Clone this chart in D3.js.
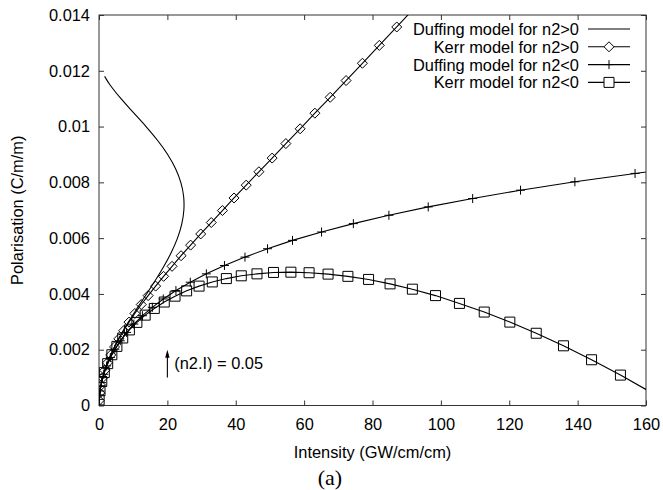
<!DOCTYPE html>
<html>
<head>
<meta charset="utf-8">
<script src="https://cdn.jsdelivr.net/npm/d3@7"></script>
<style>
  body { margin: 0; background: #fff; }
  svg text { font-family: "Liberation Sans", Arial, sans-serif; font-size: 16.4px; fill: #000; }
  .axis path { display: none; }
  .axis line { stroke: #333; }
</style>
</head>
<body>
<svg id="chart"></svg>
<script>
// Duffing model, n2 > 0 (plain line, folds back)
var duffPosP = [0, 0.0005, 0.001, 0.0015, 0.002, 0.0025, 0.003, 0.0035, 0.004, 0.0045, 0.005, 0.0055,
                0.006, 0.0065, 0.007, 0.0075, 0.008, 0.0085, 0.009, 0.0095, 0.010, 0.0105, 0.011, 0.0115, 0.0118];
var duffPosI = [0, 0.27, 1.07, 2.36, 4.10, 6.22, 8.63, 11.23, 13.91, 16.55, 19.02, 21.20,
                22.96, 24.20, 24.82, 24.75, 23.93, 22.37, 20.08, 17.16, 13.76, 10.08, 6.43, 3.19, 1.64];

// Kerr model, n2 > 0 (diamonds)
var kerrPosI = [0.04, 0.22, 0.56, 1.04, 1.69, 2.48, 3.43, 4.54, 5.79, 7.20, 8.77, 10.48, 12.36, 14.38,
                16.56, 18.89, 21.37, 24.01, 26.80, 29.75, 32.84, 36.10, 39.50, 43.06, 46.77, 50.64,
                54.66, 58.83, 63.15, 67.63, 72.27, 77.05, 81.99, 87.09, 92.33];
var kerrPosP = [0.00018, 0.00045, 0.00072, 0.00099, 0.00126, 0.00153, 0.00181, 0.00210, 0.00239, 0.00268,
                0.00299, 0.00330, 0.00362, 0.00394, 0.00428, 0.00463, 0.00499, 0.00537, 0.00575, 0.00615,
                0.00656, 0.00699, 0.00744, 0.00790, 0.00838, 0.00887, 0.00939, 0.00992, 0.01048, 0.01105,
                0.01165, 0.01227, 0.01291, 0.01357, 0.01426];

// Duffing model, n2 < 0 (plus signs)
var duffNegP = [0.00022, 0.00052, 0.00082, 0.00112, 0.00142, 0.00172, 0.00202, 0.00232, 0.00262, 0.00292,
                0.00322, 0.00352, 0.00382, 0.00412, 0.00442, 0.00472, 0.00502, 0.00532, 0.00562, 0.00592,
                0.00622, 0.00652, 0.00682, 0.00712, 0.00742, 0.00772, 0.00802, 0.00832, 0.00862];
var duffNegI = [0.05, 0.30, 0.73, 1.38, 2.24, 3.32, 4.64, 6.22, 8.08, 10.2, 12.7, 15.6, 18.8, 22.5,
                26.7, 31.4, 36.7, 42.7, 49.3, 56.6, 65.1, 74.4, 84.8, 96.3, 109.3, 123.3, 139.2, 156.8, 175.2];

// Kerr model, n2 < 0 (squares)
var kerrNegI = [0.04, 0.30, 0.81, 1.55, 2.54, 3.76, 5.23, 6.94, 8.89, 11.08, 13.51, 16.18, 19.09, 22.24,
                25.63, 29.27, 33.14, 37.26, 41.62, 46.21, 51.05, 56.13, 61.45, 67.01, 72.81, 78.85, 85.14,
                91.66, 98.43, 105.43, 112.68, 120.17, 127.89, 135.86, 144.07, 152.52, 161.21];
var kerrNegP = [0.00020, 0.00053, 0.00086, 0.00118, 0.00150, 0.00182, 0.00212, 0.00242, 0.00271, 0.00298,
                0.00324, 0.00348, 0.00371, 0.00392, 0.00411, 0.00428, 0.00443, 0.00455, 0.00465, 0.00472,
                0.00477, 0.00478, 0.00476, 0.00471, 0.00463, 0.00452, 0.00436, 0.00417, 0.00394, 0.00366,
                0.00335, 0.00299, 0.00259, 0.00214, 0.00164, 0.00109, 0.00049];

var xTicks = [0, 20, 40, 60, 80, 100, 120, 140, 160];
var yTicks = [0, 0.002, 0.004, 0.006, 0.008, 0.01, 0.012, 0.014];
var legendLabels = ["Duffing model for n2>0", "Kerr model for n2>0", "Duffing model for n2<0", "Kerr model for n2<0"];
var legendSymbols = ["none", "diamond", "plus", "square"];
var arrowFrom = [20, 0.001], arrowTo = [20, 0.002];
var noteText = "(n2.I) = 0.05", notePos = [22, 0.0015];

var width = 663, height = 490;
var plotLeft = 99, plotRight = 646, plotTop = 15, plotBottom = 405.5;

var svg = d3.select("#chart")
    .attr("width", width)
    .attr("height", height);

var x = d3.scaleLinear().domain([0, 160]).range([plotLeft, plotRight]);
var y = d3.scaleLinear().domain([0, 0.014]).range([plotBottom, plotTop]);

function zip(xs, ys) {
  return xs.map((v, i) => [v, ys[i]]);
}

svg.append("defs")
  .append("clipPath")
    .attr("id", "plot-clip")
  .append("rect")
    .attr("x", plotLeft)
    .attr("y", plotTop)
    .attr("width", plotRight - plotLeft)
    .attr("height", plotBottom - plotTop);

// axes, ticks pointing inwards and mirrored
svg.append("g")
    .attr("class", "axis")
    .attr("transform", "translate(0," + plotBottom + ")")
    .call(d3.axisBottom(x).tickValues(xTicks).tickSize(-5).tickSizeOuter(0).tickPadding(13)
            .tickFormat(d3.format("d")));
svg.append("g")
    .attr("class", "axis")
    .attr("transform", "translate(0," + plotTop + ")")
    .call(d3.axisTop(x).tickValues(xTicks).tickSize(-5).tickSizeOuter(0).tickFormat(""));
svg.append("g")
    .attr("class", "axis")
    .attr("transform", "translate(" + plotLeft + ",0)")
    .call(d3.axisLeft(y).tickValues(yTicks).tickSize(-5).tickSizeOuter(0).tickPadding(9)
            .tickFormat(d => d === 0 ? "0" : String(+d.toFixed(3))));
svg.append("g")
    .attr("class", "axis")
    .attr("transform", "translate(" + plotRight + ",0)")
    .call(d3.axisRight(y).tickValues(yTicks).tickSize(-5).tickSizeOuter(0).tickFormat(""));

svg.selectAll(".axis")
    .attr("font-size", null)
    .attr("font-family", null);

svg.append("rect")
    .attr("x", plotLeft)
    .attr("y", plotTop)
    .attr("width", plotRight - plotLeft)
    .attr("height", plotBottom - plotTop)
    .attr("fill", "none")
    .attr("stroke", "#333")
    .attr("stroke-width", 1);

// axis titles
svg.append("text")
    .attr("transform", "translate(23," + (plotTop + plotBottom) / 2 + ") rotate(-90)")
    .attr("text-anchor", "middle")
    .text("Polarisation (C/m/m)");

svg.append("text")
    .attr("x", (plotLeft + plotRight) / 2)
    .attr("y", 458)
    .attr("text-anchor", "middle")
    .text("Intensity (GW/cm/cm)");

svg.append("text")
    .attr("x", 330)
    .attr("y", 485)
    .attr("text-anchor", "middle")
    .style("font-family", "'Liberation Serif', 'Times New Roman', serif")
    .style("font-size", "22px")
    .text("(a)");

// curves
var line = d3.line()
             .x(d => x(d[0]))
             .y(d => y(d[1]));

var plot = svg.append("g").attr("clip-path", "url(#plot-clip)");

plot.append("path")
    .datum(zip(duffPosI, duffPosP))
    .attr("d", line.curve(d3.curveCatmullRom))
    .attr("fill", "none")
    .attr("stroke", "#000")
    .attr("stroke-width", 1.1);

line.curve(d3.curveLinear);

var series = [
  { pts: zip(kerrPosI, kerrPosP), sym: "diamond" },
  { pts: zip(duffNegI, duffNegP), sym: "plus" },
  { pts: zip(kerrNegI, kerrNegP), sym: "square" }
];

function symbolPath(sym) {
  if (sym === "diamond") return "M0,-5L5,0L0,5L-5,0Z";
  if (sym === "plus") return "M-4.5,0H4.5M0,-4.5V4.5";
  if (sym === "square") return "M-5,-5H5V5H-5Z";
  return "";
}

series.forEach(s => {
  plot.append("path")
      .datum(s.pts)
      .attr("d", line)
      .attr("fill", "none")
      .attr("stroke", "#000")
      .attr("stroke-width", 1.1);

  plot.selectAll(".m-" + s.sym)
      .data(s.pts.filter(d => d[0] <= 160 && d[1] <= 0.014))
      .enter()
      .append("path")
        .attr("class", "m-" + s.sym)
        .attr("transform", d => "translate(" + x(d[0]) + "," + y(d[1]) + ")")
        .attr("d", symbolPath(s.sym))
        .attr("fill", "none")
        .attr("stroke", "#000")
        .attr("stroke-width", 1);
});

// annotation arrow
svg.append("line")
    .attr("x1", x(arrowFrom[0]))
    .attr("y1", y(arrowFrom[1]))
    .attr("x2", x(arrowTo[0]))
    .attr("y2", y(arrowTo[1]) + 3)
    .attr("stroke", "#000")
    .attr("stroke-width", 1.1);
svg.append("path")
    .attr("transform", "translate(" + x(arrowTo[0]) + "," + y(arrowTo[1]) + ")")
    .attr("d", "M0,0L-2.2,8L2.2,8Z")
    .attr("fill", "#000");

svg.append("text")
    .attr("x", x(notePos[0]))
    .attr("y", y(notePos[1]))
    .attr("dy", "0.35em")
    .text(noteText);

// legend
var legend = svg.append("g")
  .selectAll("g")
  .data(legendLabels)
  .enter()
  .append("g")
    .attr("transform", (d, i) => "translate(0," + (29 + i * 17.8) + ")");

legend.append("text")
    .attr("x", 579)
    .attr("dy", "0.36em")
    .attr("text-anchor", "end")
    .text(d => d);

legend.append("line")
    .attr("x1", 588)
    .attr("x2", 630)
    .attr("stroke", "#000")
    .attr("stroke-width", 1.1);

legend.append("path")
    .attr("transform", "translate(609,0)")
    .attr("d", (d, i) => symbolPath(legendSymbols[i]))
    .attr("fill", "#fff")
    .attr("stroke", "#000")
    .attr("stroke-width", 1);
</script>
</body>
</html>
